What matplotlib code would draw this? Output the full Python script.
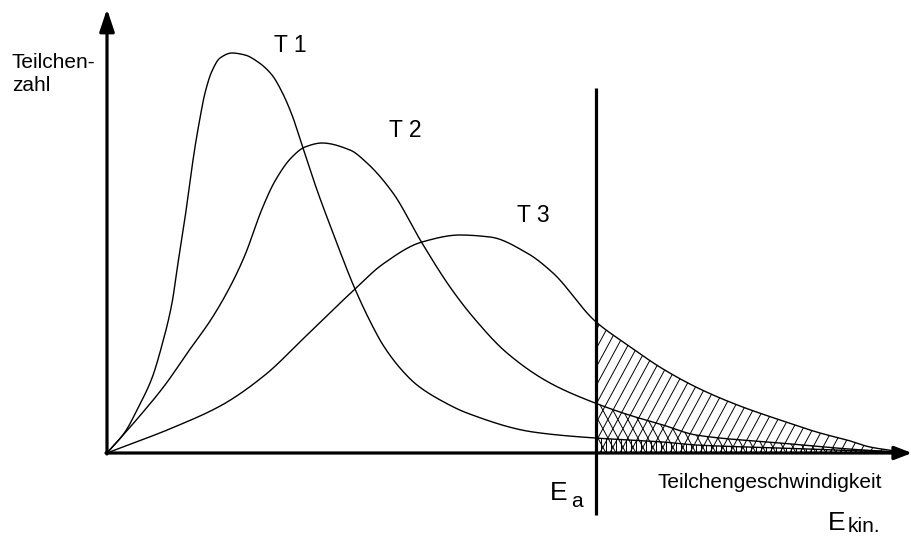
import numpy as np
import matplotlib
matplotlib.use("Agg")
import matplotlib.pyplot as plt
from matplotlib.collections import LineCollection

plt.rcParams['font.family'] = ['Liberation Sans', 'DejaVu Sans']

# ---- data (arbitrary units, origin at axes crossing)
t1_x = [0, 18, 31, 45, 55, 65, 71, 78, 83, 88, 93, 98, 105, 113, 125, 138, 151, 165, 175, 185, 195,
        210, 226, 248, 266, 276, 293, 310, 335, 360, 426, 488, 522, 556, 589, 673, 756, 793]
t1_y = [0, 21, 45, 75, 108, 150, 190, 235, 272, 306, 335, 360, 382, 395, 400, 398, 391, 378, 361, 338, 308,
        263, 220, 164, 126, 108, 85, 68, 52, 40, 21, 15, 13, 11, 8, 5, 2, 1]

t2_x = [0, 31, 58, 81, 105, 125, 138, 155, 168, 185, 198, 215, 243, 260, 286, 315, 343, 366, 400, 443,
        488, 522, 556, 589, 673, 756, 793]
t2_y = [0, 35, 68, 101, 135, 170, 198, 244, 272, 296, 306, 310, 303, 290, 260, 210, 166, 136, 100, 70,
        50, 38, 28, 18, 10, 3, 1]

t3_x = [0, 65, 115, 158, 198, 248, 276, 315, 353, 383, 420, 446, 488, 522, 556, 593, 633, 673, 713, 740, 763, 788]
t3_y = [0, 25, 48, 78, 116, 164, 189, 211, 218, 216, 200, 180, 132, 107, 84, 64, 47, 33, 20, 13, 6, 2]

curve_labels = ["T 1", "T 2", "T 3"]
ea_pos = 489
y_label = ["Teilchen-", "zahl"]
x_label = "Teilchengeschwindigkeit"


def pchip(x, y, xn):
    x = np.asarray(x, float); y = np.asarray(y, float)
    h = np.diff(x); d = np.diff(y) / h
    m = np.zeros_like(y)
    for k in range(1, len(x) - 1):
        if d[k - 1] * d[k] <= 0:
            m[k] = 0.0
        else:
            w1 = 2 * h[k] + h[k - 1]; w2 = h[k] + 2 * h[k - 1]
            m[k] = (w1 + w2) / (w1 / d[k - 1] + w2 / d[k])
    m[0] = d[0]; m[-1] = d[-1]
    idx = np.clip(np.searchsorted(x, xn) - 1, 0, len(x) - 2)
    t = (xn - x[idx]) / h[idx]
    h00 = 2 * t**3 - 3 * t**2 + 1; h10 = t**3 - 2 * t**2 + t
    h01 = -2 * t**3 + 3 * t**2; h11 = t**3 - t**2
    return h00 * y[idx] + h10 * h[idx] * m[idx] + h01 * y[idx + 1] + h11 * h[idx] * m[idx + 1]


fig = plt.figure(figsize=(9.12, 5.37), dpi=100)
ax = fig.add_axes([0, 0, 1, 1])
ax.set_xlim(-107, 805)
ax.set_ylim(-84, 453)
ax.axis('off')

curves = [(t1_x, t1_y), (t2_x, t2_y), (t3_x, t3_y)]
for cx, cy in curves:
    xs = np.linspace(cx[0], cx[-1], 1200)
    ax.plot(xs, pchip(cx, cy, xs), color='black', lw=1.0, zorder=3)

# hatching right of E_a
slope = 1.85
H = 400
styles = ['|', '\\', '/']
for (cx, cy), st in zip(curves, styles):
    xs = np.linspace(ea_pos, cx[-1], 400)
    ys = pchip(cx, cy, xs)
    poly = ax.fill_between(xs, 0, ys, facecolor='none', edgecolor='none')
    segs = []
    if st == '/':
        for c in np.arange(ea_pos - H / slope, 820, 10.0):
            segs.append([(c, 0), (c + H / slope, H)])
    elif st == '\\':
        for c in np.arange(ea_pos, 820 + H / slope, 10.0):
            segs.append([(c, 0), (c - H / slope, H)])
    else:
        for c in np.arange(ea_pos, 820, 5.0):
            segs.append([(c, 0), (c, H)])
    lc = LineCollection(segs, colors='black', linewidths=0.7, zorder=2)
    ax.add_collection(lc)
    lc.set_clip_path(poly.get_paths()[0], ax.transData)

# axes with arrows
ax.annotate('', xy=(0, 444), xytext=(0, -1),
            arrowprops=dict(arrowstyle='-|>,head_length=0.9,head_width=0.3',
                            lw=2.3, color='black', mutation_scale=15,
                            shrinkA=0, shrinkB=0), zorder=5)
ax.annotate('', xy=(805, 0), xytext=(-1, 0),
            arrowprops=dict(arrowstyle='-|>,head_length=0.7,head_width=0.27',
                            lw=2.3, color='black', mutation_scale=15,
                            shrinkA=0, shrinkB=0), zorder=5)
ax.plot([ea_pos, ea_pos], [-62, 365], color='black', lw=2.3, zorder=5,
        solid_capstyle='butt')

fs = 15
ax.text(-95, 385, y_label[0], fontsize=fs, ha='left', va='baseline')
ax.text(-95, 362, y_label[1], fontsize=fs, ha='left', va='baseline')
for lab, (lx, ly) in zip(curve_labels, [(167, 401), (282, 316), (410, 231)]):
    ax.text(lx, ly, lab, fontsize=16.5, ha='left', va='baseline')
ax.text(551, -35, x_label, fontsize=fs, ha='left', va='baseline')
ax.text(443, -47, 'E', fontsize=19, ha='left', va='baseline')
ax.text(464, -54, 'a', fontsize=fs, ha='left', va='baseline')
ax.text(721, -77, 'E', fontsize=19, ha='left', va='baseline')
ax.text(741, -79, 'kin.', fontsize=fs, ha='left', va='baseline')

fig.savefig('out.png', dpi=100)
